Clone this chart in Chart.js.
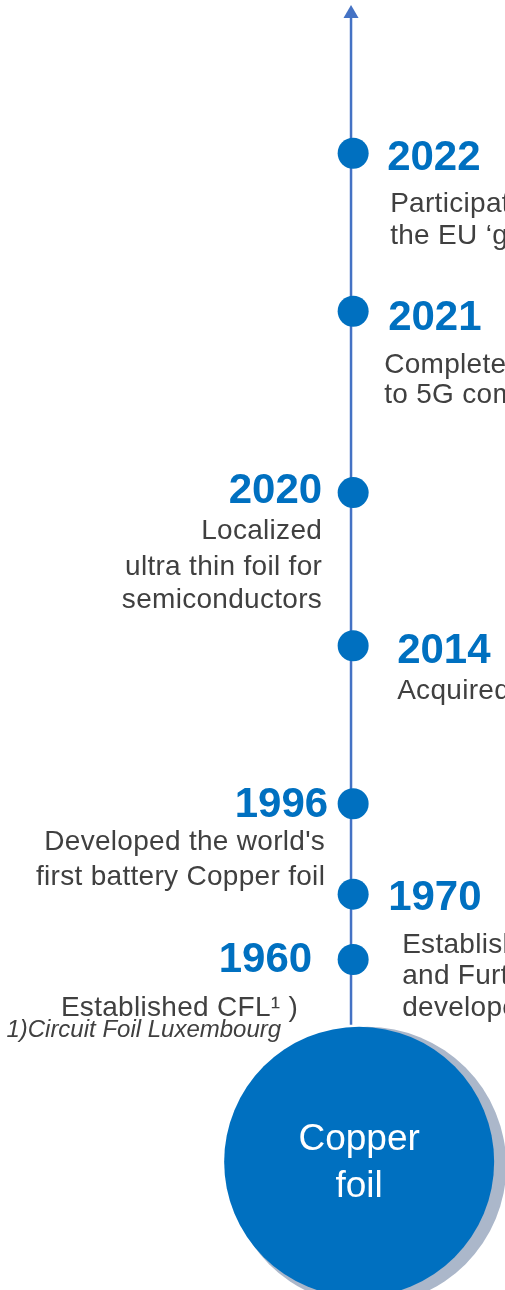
<!DOCTYPE html>
<html>
<head>
<meta charset="utf-8">
<script src="https://cdn.jsdelivr.net/npm/chart.js@4.4.0/dist/chart.umd.min.js"></script>
<style>
    html, body { margin: 0; padding: 0; background: #fff; }
    #timeline { display: block; }
</style>
</head>
<body>
<canvas id="timeline" width="505" height="1290"></canvas>
<script>
/****************** DATA **********************/

var years = ['1960', '1970', '1996', '2014', '2020', '2021', '2022'];
// place of each milestone along the timeline (1960 = 0, 2022 = 100)
var slots = [0, 8.1, 19.3, 38.9, 57.9, 80.4, 100];
var sides = ['left', 'right', 'left', 'right', 'left', 'right', 'right'];
var descriptions = [
    ['Established CFL\u00b9 )'],
    ['Established', 'and Further', 'developed'],
    ["Developed the world's", 'first battery Copper foil'],
    ['Acquired CFL'],
    ['Localized', 'ultra thin foil for', 'semiconductors'],
    ['Completed', 'to 5G components'],
    ['Participated in', 'the EU \u2018green deal\u2019']
];
var footnote = '1)Circuit Foil Luxembourg';
var centerLabel = ['Copper', 'foil'];

/****************** STYLE **********************/

var BLUE = '#0070C0';
var AXIS_BLUE = '#4472C4';
var SHADOW = '#ABB7CA';
var TEXT = '#404040';
var FONT = '"Liberation Sans", Arial, sans-serif';

// stem of the arrow and the base circle, in timeline units
var stem = { from: -8.1, to: 117.3 };
var base = { x: 0.17, y: -25.1, r: 135 };
var shadow = { x: 0.40, y: -25.6, r: 139 };

// text offsets from each dot, in pixels
var textLayout = [
    { yearX: -41, yearDy: 13, descX: -55, descDy: [57] },
    { yearX: 35, yearDy: 16, descX: 49, descDy: [59, 90, 122] },
    { yearX: -25, yearDy: 13, descX: -28, descDy: [46, 81] },
    { yearX: 44, yearDy: 17, descX: 44, descDy: [53] },
    { yearX: -31, yearDy: 10, descX: -31, descDy: [46, 82, 115] },
    { yearX: 35, yearDy: 19, descX: 31, descDy: [62, 92] },
    { yearX: 34, yearDy: 17, descX: 37, descDy: [59, 91] }
];

/****************** PLUGIN **********************/

var labelPlugin = {
    id: 'timelineLabels',
    afterDatasetsDraw: function (chart) {
        var ctx = chart.ctx;
        var xs = chart.scales.x, ys = chart.scales.y;
        var x0 = xs.getPixelForValue(0);

        ctx.save();
        ctx.textBaseline = 'alphabetic';
        years.forEach(function (year, i) {
            var y0 = ys.getPixelForValue(slots[i]);
            var lay = textLayout[i];
            ctx.textAlign = sides[i] === 'left' ? 'right' : 'left';

            ctx.letterSpacing = '0px';
            ctx.fillStyle = BLUE;
            ctx.font = 'bold 42px ' + FONT;
            ctx.fillText(year, x0 + lay.yearX, y0 + lay.yearDy);

            ctx.letterSpacing = '0.3px';
            ctx.fillStyle = TEXT;
            ctx.font = '28px ' + FONT;
            descriptions[i].forEach(function (line, j) {
                ctx.fillText(line, x0 + lay.descX, y0 + lay.descDy[j]);
            });
        });

        // footnote under 1960
        var yFirst = ys.getPixelForValue(slots[0]);
        ctx.textAlign = 'right';
        ctx.letterSpacing = '0px';
        ctx.fillStyle = TEXT;
        ctx.font = 'italic 24px ' + FONT;
        ctx.fillText(footnote, x0 - 72, yFirst + 78);

        // label inside the base circle
        var cx = xs.getPixelForValue(base.x);
        var cy = ys.getPixelForValue(base.y);
        ctx.textAlign = 'center';
        ctx.fillStyle = '#fff';
        ctx.font = '37px ' + FONT;
        ctx.fillText(centerLabel[0], cx, cy - 12);
        ctx.fillText(centerLabel[1], cx, cy + 35);
        ctx.restore();
    }
};

/****************** CHART **********************/

function makeTimeline()
{
    var points = years.map(function (y, i) {
        return { x: 0, y: slots[i] };
    });

    var ctx = document.getElementById('timeline').getContext('2d');
    new Chart(ctx, {
        type: 'scatter',
        data: {
            datasets: [{
                // milestones
                data: points,
                pointRadius: 15.5,
                pointBackgroundColor: BLUE,
                pointBorderWidth: 0,
                clip: false,
                order: 1
            }, {
                // base circle
                data: [{ x: base.x, y: base.y }],
                pointRadius: base.r,
                pointBackgroundColor: BLUE,
                pointBorderWidth: 0,
                clip: false,
                order: 2
            }, {
                // shadow of base circle
                data: [{ x: shadow.x, y: shadow.y }],
                pointRadius: shadow.r,
                pointBackgroundColor: SHADOW,
                pointBorderWidth: 0,
                clip: false,
                order: 3
            }, {
                // arrow
                type: 'line',
                data: [{ x: -0.06, y: stem.from }, { x: -0.06, y: stem.to }],
                borderColor: AXIS_BLUE,
                borderWidth: 2.5,
                pointRadius: [0, 8.7],
                pointStyle: 'triangle',
                pointBackgroundColor: AXIS_BLUE,
                pointBorderWidth: 0,
                clip: false,
                order: 4
            }]
        },
        options: {
            responsive: false,
            animation: false,
            events: [],
            layout: { padding: 0, autoPadding: false },
            plugins: {
                legend: { display: false },
                tooltip: { enabled: false }
            },
            scales: {
                x: { type: 'linear', min: -10, max: 4.3, display: false },
                y: { type: 'linear', min: -41, max: 119, display: false }
            }
        },
        plugins: [labelPlugin]
    });
}

makeTimeline();
</script>
</body>
</html>
